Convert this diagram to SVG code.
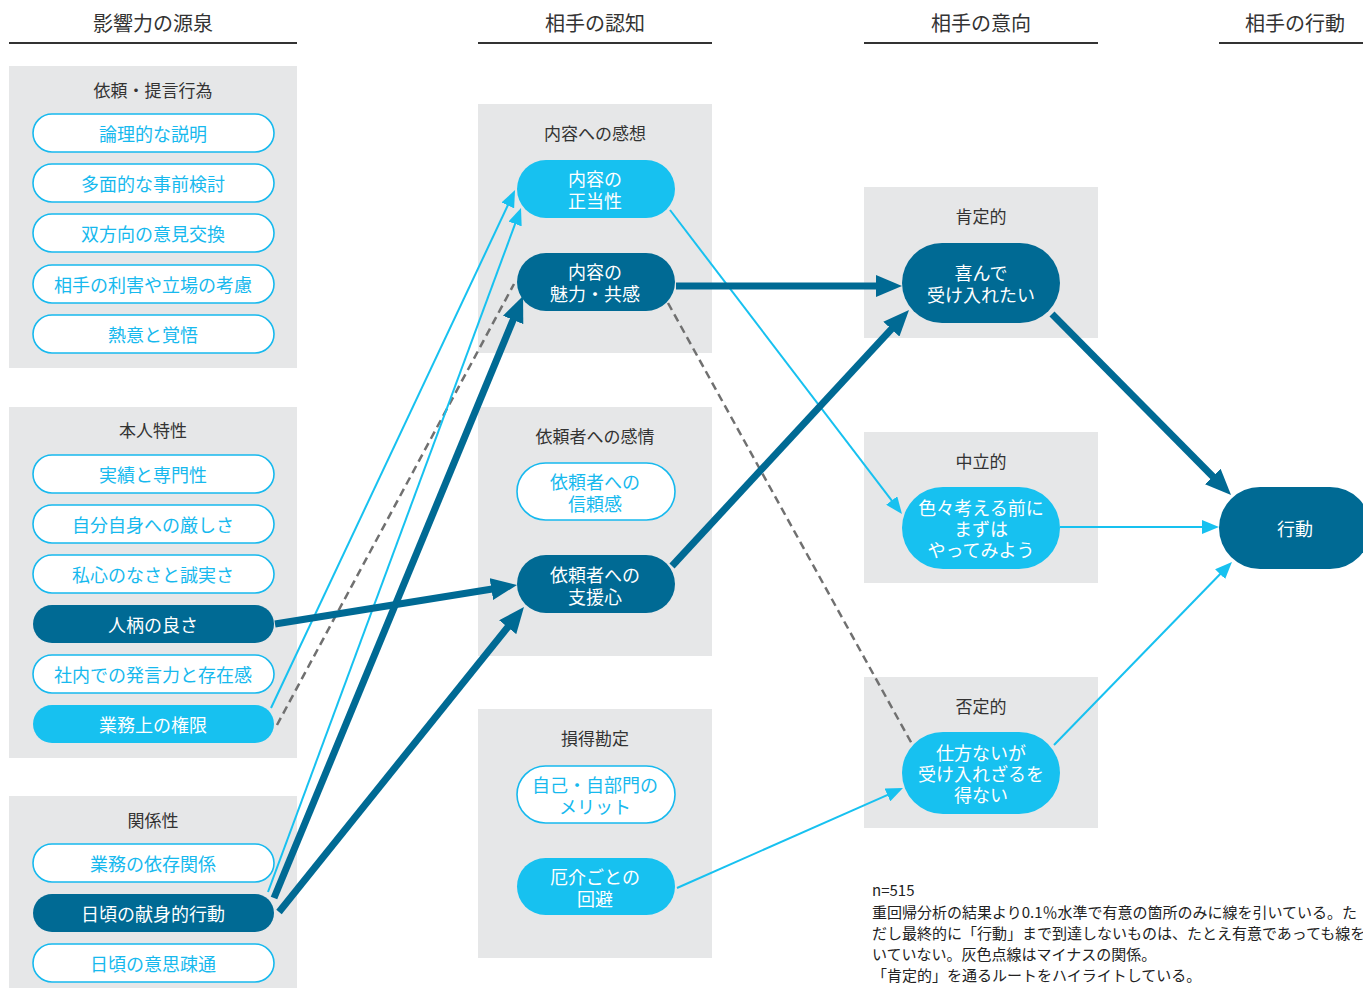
<svg xmlns="http://www.w3.org/2000/svg" width="1363" height="988" viewBox="0 0 1363 988">
<style>
text{font-family:"Noto Sans CJK JP","Noto Sans",sans-serif;}
.hdr{font-size:20px;fill:#333;text-anchor:middle;}
.hline{stroke:#333;stroke-width:2;}
.panel{fill:#e6e7e8;}
.ptitle{font-size:17px;fill:#333;text-anchor:middle;dominant-baseline:central;}
.pw{fill:#fff;stroke:#17b9ee;stroke-width:1.6;}
.pd{fill:#006a94;}
.pl{fill:#17c1f0;}
.tw{font-size:18px;fill:#17b9ee;text-anchor:middle;dominant-baseline:central;}
.tl{font-size:18px;fill:#fff;text-anchor:middle;dominant-baseline:central;}
.thin{stroke:#17c1f0;stroke-width:2;fill:none;marker-end:url(#ah-thin);}
.thick{stroke:#006a94;stroke-width:7;fill:none;marker-end:url(#ah-thick);}
.dash{stroke:#707070;stroke-width:2.5;stroke-dasharray:8 5;fill:none;}
.note{font-size:15px;fill:#222;}
</style>
<defs>
<marker id="ah-thin" viewBox="0 0 17 14" refX="4" refY="7" markerWidth="17" markerHeight="14" markerUnits="userSpaceOnUse" orient="auto">
<path d="M0,0 L17,7 L0,14 z" fill="#17c1f0"/>
</marker>
<marker id="ah-thick" viewBox="0 0 26 22" refX="12" refY="11" markerWidth="26" markerHeight="22" markerUnits="userSpaceOnUse" orient="auto">
<path d="M0,0 L26,11 L0,22 z" fill="#006a94"/>
</marker>
</defs>
<rect width="1363" height="988" fill="#fff"/>

<g id="headers">
<text class="hdr" x="153" y="31">影響力の源泉</text>
<line class="hline" x1="9" y1="43" x2="297" y2="43"/>
<text class="hdr" x="595" y="31">相手の認知</text>
<line class="hline" x1="478" y1="43" x2="712" y2="43"/>
<text class="hdr" x="981" y="31">相手の意向</text>
<line class="hline" x1="864" y1="43" x2="1098" y2="43"/>
<text class="hdr" x="1295" y="31">相手の行動</text>
<line class="hline" x1="1219" y1="43" x2="1371" y2="43"/>
</g>

<g id="panels">
<rect class="panel" x="9" y="66" width="288" height="302"/>
<text class="ptitle" x="153" y="89">依頼・提言行為</text>
<rect class="panel" x="9" y="407" width="288" height="351"/>
<text class="ptitle" x="153" y="429">本人特性</text>
<rect class="panel" x="9" y="796" width="288" height="200"/>
<text class="ptitle" x="153" y="819">関係性</text>
<rect class="panel" x="478" y="104" width="234" height="249"/>
<text class="ptitle" x="595" y="132">内容への感想</text>
<rect class="panel" x="478" y="407" width="234" height="249"/>
<text class="ptitle" x="595" y="435">依頼者への感情</text>
<rect class="panel" x="478" y="709" width="234" height="249"/>
<text class="ptitle" x="595" y="737">損得勘定</text>
<rect class="panel" x="864" y="187" width="234" height="151"/>
<text class="ptitle" x="981" y="215">肯定的</text>
<rect class="panel" x="864" y="432" width="234" height="151"/>
<text class="ptitle" x="981" y="460">中立的</text>
<rect class="panel" x="864" y="677" width="234" height="151"/>
<text class="ptitle" x="981" y="705">否定的</text>
</g>

<g id="connectors">
<line class="thin" x1="271" y1="708" x2="509.5" y2="201.8"/>
<line class="dash" x1="277" y1="725" x2="514" y2="284"/>
<line class="thin" x1="268" y1="892" x2="516.5" y2="220.2"/>
<line class="thick" x1="274" y1="898" x2="517.7" y2="308.9"/>
<line class="thick" x1="279" y1="912" x2="515.2" y2="617.9"/>
<line class="thick" x1="275" y1="624" x2="503.2" y2="587.2"/>
<line class="thin" x1="670" y1="210" x2="894.1" y2="503.7"/>
<line class="thick" x1="676" y1="286" x2="888" y2="286"/>
<line class="dash" x1="668" y1="303" x2="912" y2="744"/>
<line class="thick" x1="672" y1="566" x2="899.5" y2="320.3"/>
<line class="thin" x1="677" y1="888" x2="891.1" y2="793.3"/>
<line class="thick" x1="1052" y1="314" x2="1221.2" y2="485"/>
<line class="thin" x1="1060" y1="527" x2="1206" y2="527"/>
<line class="thin" x1="1054" y1="745" x2="1222.9" y2="571.3"/>
</g>

<g id="n-ronri"><rect class="pw" x="33" y="114" width="241" height="38" rx="19"/><text class="tw" x="153" y="133">論理的な説明</text></g>
<g id="n-tamen"><rect class="pw" x="33" y="164" width="241" height="38" rx="19"/><text class="tw" x="153" y="183">多面的な事前検討</text></g>
<g id="n-souhou"><rect class="pw" x="33" y="214" width="241" height="38" rx="19"/><text class="tw" x="153" y="233">双方向の意見交換</text></g>
<g id="n-rigai"><rect class="pw" x="33" y="265" width="241" height="38" rx="19"/><text class="tw" x="153" y="284">相手の利害や立場の考慮</text></g>
<g id="n-netsui"><rect class="pw" x="33" y="315" width="241" height="38" rx="19"/><text class="tw" x="153" y="334">熱意と覚悟</text></g>

<g id="n-jisseki"><rect class="pw" x="33" y="455" width="241" height="38" rx="19"/><text class="tw" x="153" y="474">実績と専門性</text></g>
<g id="n-jibun"><rect class="pw" x="33" y="505" width="241" height="38" rx="19"/><text class="tw" x="153" y="524">自分自身への厳しさ</text></g>
<g id="n-shishin"><rect class="pw" x="33" y="555" width="241" height="38" rx="19"/><text class="tw" x="153" y="574">私心のなさと誠実さ</text></g>
<g id="n-hitogara"><rect class="pd" x="33" y="605" width="241" height="38" rx="19"/><text class="tl" x="153" y="624">人柄の良さ</text></g>
<g id="n-shanai"><rect class="pw" x="33" y="655" width="241" height="38" rx="19"/><text class="tw" x="153" y="674">社内での発言力と存在感</text></g>
<g id="n-kengen"><rect class="pl" x="33" y="705" width="241" height="38" rx="19"/><text class="tl" x="153" y="724">業務上の権限</text></g>

<g id="n-izon"><rect class="pw" x="33" y="844" width="241" height="38" rx="19"/><text class="tw" x="153" y="863">業務の依存関係</text></g>
<g id="n-kenshin"><rect class="pd" x="33" y="894" width="241" height="38" rx="19"/><text class="tl" x="153" y="913">日頃の献身的行動</text></g>
<g id="n-ishi"><rect class="pw" x="33" y="944" width="241" height="38" rx="19"/><text class="tw" x="153" y="963">日頃の意思疎通</text></g>

<g id="n-seitou"><rect class="pl" x="517" y="160" width="158" height="58" rx="29"/><text class="tl" x="595" y="178">内容の</text><text class="tl" x="595" y="200">正当性</text></g>
<g id="n-miryoku"><rect class="pd" x="517" y="253" width="158" height="58" rx="29"/><text class="tl" x="595" y="271">内容の</text><text class="tl" x="595" y="293">魅力・共感</text></g>
<g id="n-shinrai"><rect class="pw" x="517" y="463" width="158" height="57" rx="28.5"/><text class="tw" x="595" y="481">依頼者への</text><text class="tw" x="595" y="503">信頼感</text></g>
<g id="n-shien"><rect class="pd" x="517" y="555" width="158" height="58" rx="29"/><text class="tl" x="595" y="574">依頼者への</text><text class="tl" x="595" y="596">支援心</text></g>
<g id="n-merit"><rect class="pw" x="517" y="766" width="158" height="57" rx="28.5"/><text class="tw" x="595" y="784">自己・自部門の</text><text class="tw" x="595" y="806">メリット</text></g>
<g id="n-yakkai"><rect class="pl" x="517" y="858" width="158" height="57" rx="28.5"/><text class="tl" x="595" y="876">厄介ごとの</text><text class="tl" x="595" y="898">回避</text></g>

<g id="n-yorokonde"><rect class="pd" x="902" y="243" width="158" height="80" rx="40"/><text class="tl" x="981" y="272">喜んで</text><text class="tl" x="981" y="294">受け入れたい</text></g>
<g id="n-iroiro"><rect class="pl" x="902" y="487" width="158" height="82" rx="41"/><text class="tl" x="981" y="507">色々考える前に</text><text class="tl" x="981" y="528">まずは</text><text class="tl" x="981" y="549">やってみよう</text></g>
<g id="n-shikata"><rect class="pl" x="902" y="732" width="158" height="82" rx="41"/><text class="tl" x="981" y="752">仕方ないが</text><text class="tl" x="981" y="773">受け入れざるを</text><text class="tl" x="981" y="794">得ない</text></g>

<g id="n-koudou"><rect class="pd" x="1219" y="487" width="152" height="82" rx="41"/><text class="tl" x="1295" y="528">行動</text></g>

<g id="note">
<text class="note" x="872" y="896">n=515</text>
<text class="note" x="872" y="918">重回帰分析の結果より0.1％水準で有意の箇所のみに線を引いている。た</text>
<text class="note" x="872" y="939">だし最終的に「行動」まで到達しないものは、たとえ有意であっても線を引</text>
<text class="note" x="872" y="960">いていない。灰色点線はマイナスの関係。</text>
<text class="note" x="872" y="981">「肯定的」を通るルートをハイライトしている。</text>
</g>
</svg>
